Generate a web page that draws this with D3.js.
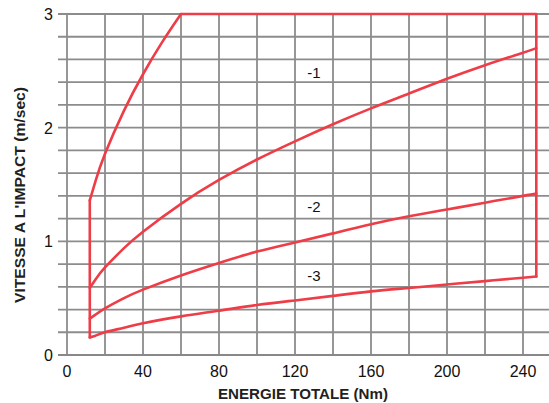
<!DOCTYPE html>
<html>
<head>
<meta charset="utf-8">
<script src="https://cdn.jsdelivr.net/npm/d3@7"></script>
<style>
  body { margin: 0; background: #fff; }
  svg { display: block; font-family: "Liberation Sans", Arial, sans-serif; }
</style>
</head>
<body>
<svg id="chart" width="549" height="403"></svg>
<script>
// values
let xTicks = [0, 40, 80, 120, 160, 200, 240]
let yTicks = [0, 1, 2, 3]
let energy = [12, 15, 20, 30, 40, 60, 80, 100, 120, 140, 160, 180, 200, 220, 240, 247]
let speed1 = [0.59, 0.665, 0.77, 0.94, 1.085, 1.33, 1.54, 1.72, 1.88, 2.03, 2.17, 2.30, 2.43, 2.55, 2.66, 2.70]
let speed2 = [0.32, 0.355, 0.41, 0.50, 0.575, 0.70, 0.81, 0.91, 0.99, 1.07, 1.15, 1.22, 1.28, 1.34, 1.40, 1.42]
let speed3 = [0.155, 0.17, 0.20, 0.24, 0.28, 0.34, 0.39, 0.44, 0.48, 0.52, 0.56, 0.59, 0.62, 0.65, 0.68, 0.69]
let limitEnergy = [12, 15, 20, 30, 40, 50, 60]
let limitSpeed = [1.36, 1.53, 1.77, 2.15, 2.47, 2.75, 3.0]
let frame = [[12, 0.155], [12, 1.36]]
let topRight = [[60, 3], [247, 3], [247, 0.69]]
let curveLabels = [{ t: "-1", e: 130, v: 2.49 }, { t: "-2", e: 130, v: 1.31 }, { t: "-3", e: 130, v: 0.70 }]

let svg = d3.select("#chart")
let x = d3.scaleLinear().domain([0, 240]).range([67, 523])
let y = d3.scaleLinear().domain([0, 3]).range([355, 14])
let gridColor = "#8c8c8c"
let red = "#ee3d47"

// grid
let grid = svg.append("g")
let vLines = d3.range(0, 241, 20)
grid.selectAll(".v").data(vLines).enter().append("line")
    .attr("x1", d => x(d)).attr("x2", d => x(d))
    .attr("y1", y(3)).attr("y2", y(0))
    .attr("stroke", gridColor).attr("stroke-width", 1.8)
let hLines = d3.range(0, 16).map(i => i * 0.2)
grid.selectAll(".h").data(hLines).enter().append("line")
    .attr("x1", 58).attr("x2", 549)
    .attr("y1", d => y(d)).attr("y2", d => y(d))
    .attr("stroke", gridColor).attr("stroke-width", 1.8)
// bottom axis line
svg.append("line").attr("x1", 58).attr("x2", 549)
    .attr("y1", y(0)).attr("y2", y(0))
    .attr("stroke", "#888").attr("stroke-width", 2.2)

// tick labels
svg.selectAll(".xt").data(xTicks).enter().append("text")
    .attr("x", d => x(d)).attr("y", 377)
    .attr("text-anchor", "middle").attr("font-size", 16).attr("fill", "#111")
    .text(d => d)
svg.selectAll(".yt").data(yTicks).enter().append("text")
    .attr("x", 53).attr("y", d => y(d) + 6)
    .attr("text-anchor", "end").attr("font-size", 16).attr("fill", "#111")
    .text(d => d)

// titles
svg.append("text").attr("x", 303).attr("y", 399)
    .attr("text-anchor", "middle").attr("font-size", 14).attr("font-weight", "bold")
    .attr("fill", "#231f20").attr("textLength", 170).attr("lengthAdjust", "spacingAndGlyphs")
    .text("ENERGIE TOTALE (Nm)")
svg.append("text").attr("transform", "translate(25,195) rotate(-90)")
    .attr("text-anchor", "middle").attr("font-size", 14.5).attr("font-weight", "bold")
    .attr("fill", "#231f20").attr("textLength", 216).attr("lengthAdjust", "spacingAndGlyphs")
    .text("VITESSE A L'IMPACT (m/sec)")

// curves
let curve = d3.line().x(d => x(d[0])).y(d => y(d[1])).curve(d3.curveNatural)
let straight = d3.line().x(d => x(d[0])).y(d => y(d[1]))
let series = [speed1, speed2, speed3].map(s => energy.map((e, i) => [e, s[i]]))
let marks = svg.append("g").attr("fill", "none").attr("stroke", red)
    .attr("stroke-width", 2.6).attr("stroke-linecap", "round").attr("stroke-linejoin", "round")
marks.selectAll(".c").data(series).enter().append("path").attr("d", curve)
marks.append("path").attr("d", curve(limitEnergy.map((e, i) => [e, limitSpeed[i]])))
marks.append("path").attr("d", straight(frame))
marks.append("path").attr("d", straight(topRight))

svg.selectAll(".lab").data(curveLabels).enter().append("text")
    .attr("x", d => x(d.e)).attr("y", d => y(d.v) + 6)
    .attr("text-anchor", "middle").attr("font-size", 15).attr("fill", "#111")
    .text(d => d.t)
</script>
</body>
</html>
